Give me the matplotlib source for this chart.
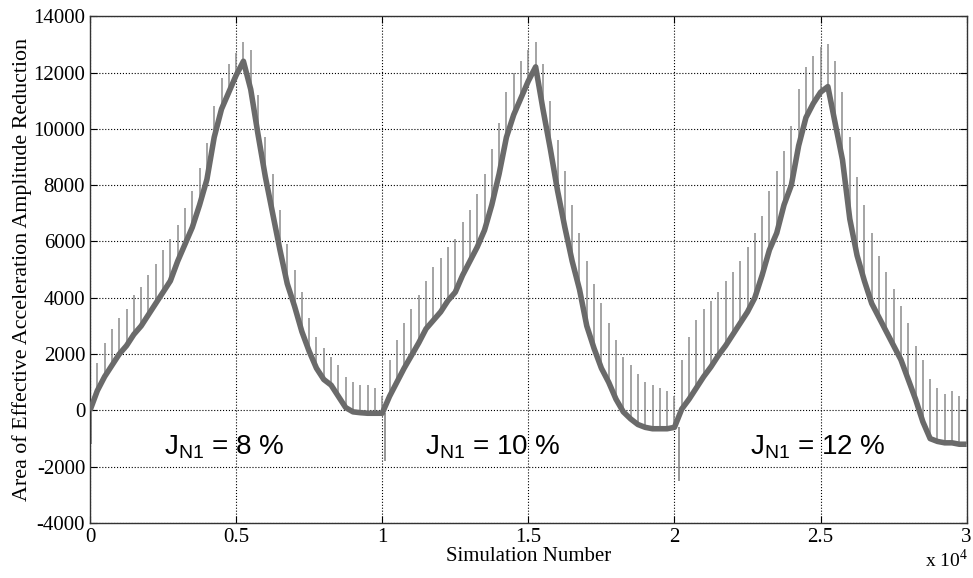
import numpy as np
import matplotlib.pyplot as plt

# simulation number (sampled every 250 runs)
sim_number = np.arange(0, 30001, 250)

# centre of the dense band
band_centre = [
    # J_N1 = 8 %
    0, 700, 1200, 1600, 2000, 2300, 2700, 3000, 3400, 3800,
    4200, 4600, 5300, 5900, 6500, 7300, 8200, 9700, 10700, 11300,
    11900, 12400, 11400, 9800, 8300, 7000, 5700, 4500, 3700, 2800,
    2100, 1500, 1100, 900, 500, 100, -50, -80, -100, -100,
    # J_N1 = 10 %
    -100, 500, 1000, 1500, 1950, 2400, 2900, 3200, 3500, 3900,
    4200, 4800, 5300, 5800, 6400, 7300, 8400, 9700, 10500, 11100,
    11700, 12200, 10700, 9300, 7800, 6500, 5300, 4300, 3000, 2200,
    1500, 1000, 400, -50, -300, -500, -600, -650, -650, -650,
    # J_N1 = 12 %
    -600, 50, 400, 800, 1200, 1550, 1950, 2300, 2700, 3100,
    3500, 4000, 4800, 5700, 6300, 7300, 8000, 9400, 10400, 10900,
    11300, 11500, 10200, 8900, 6800, 5500, 4600, 3800, 3300, 2800,
    2300, 1800, 1100, 400, -400, -1000, -1100, -1150, -1150, -1200,
    -1200,
]

# tops of the spikes above the band
spike_top = [
    1000, 1700, 2400, 2900, 3300, 3600, 4100, 4400, 4800, 5200,
    5700, 6100, 6600, 7200, 7800, 8600, 9500, 10800, 11800, 12300,
    12700, 13100, 12800, 11200, 9700, 8400, 7100, 5900, 5000, 4200,
    3300, 2600, 2200, 1900, 1600, 1200, 1000, 900, 900, 800,
    500, 1800, 2500, 3100, 3600, 4100, 4600, 5100, 5400, 5800,
    6100, 6700, 7100, 7700, 8400, 9300, 10200, 11300, 12000, 12400,
    12800, 13100, 12300, 11000, 9600, 8500, 7300, 6300, 5300, 4500,
    3800, 3100, 2500, 1900, 1600, 1300, 1000, 900, 800, 700,
    500, 1800, 2600, 3200, 3600, 3900, 4200, 4600, 4900, 5300,
    5800, 6300, 6900, 7800, 8500, 9200, 10100, 11400, 12200, 12600,
    12900, 13000, 12400, 11300, 9700, 8300, 7300, 6300, 5500, 4900,
    4300, 3700, 3100, 2300, 1800, 1100, 800, 600, 700, 500,
    400,
]

# single downward spikes at the start of each run
dip_x = [50, 10100, 20150]
dip_low = [-1200, -1800, -2500]
dip_base = [0, -100, -600]

labels = ['$\\mathregular{J_{N1}}$ = 8 %', '$\\mathregular{J_{N1}}$ = 10 %',
          '$\\mathregular{J_{N1}}$ = 12 %']
label_x = [4580, 13800, 24900]
label_y = -1300

plt.rcParams['font.family'] = 'Liberation Serif'
plt.rcParams['mathtext.fontset'] = 'custom'
plt.rcParams['mathtext.rm'] = 'Liberation Sans'
plt.rcParams['axes.unicode_minus'] = False

fig = plt.figure(figsize=(9.73, 5.78), dpi=100)
ax = fig.add_axes([0.0925, 0.095, 0.901, 0.877])

x = sim_number / 1e4
ax.vlines(x, band_centre, spike_top, color='#8c8c8c', lw=1.1, zorder=2)
ax.vlines(np.array(dip_x) / 1e4, dip_low, dip_base, color='#7a7a7a', lw=1.1, zorder=2)
ax.plot(x, band_centre, color='#6a6a6a', lw=4, solid_capstyle='butt', zorder=3)

for t, lx in zip(labels, label_x):
    ax.text(lx / 1e4, label_y, t, family='Liberation Sans', fontsize=20,
            ha='center', va='center', zorder=4)

ax.set_xlim(0, 3)
ax.set_ylim(-4000, 14000)
ax.set_xticks([0, 0.5, 1, 1.5, 2, 2.5, 3])
ax.set_xticklabels(['0', '0.5', '1', '1.5', '2', '2.5', '3'])
ax.set_yticks(np.arange(-4000, 14001, 2000))
ax.grid(True, color='black', linestyle=':', linewidth=0.8)
ax.tick_params(direction='in', top=True, right=True, labelsize=15, length=5)
for s in ax.spines.values():
    s.set_linewidth(1.0)
    s.set_color('#333333')

ax.set_xlabel('Simulation Number', fontsize=15, labelpad=0)
ax.set_ylabel('Area of Effective Acceleration Amplitude Reduction', fontsize=15.8, labelpad=1)
fig.text(0.995, 0.012, 'x 10$^{\\mathregular{4}}$', fontsize=14, ha='right', va='bottom')

fig.savefig('out.png', dpi=100)
